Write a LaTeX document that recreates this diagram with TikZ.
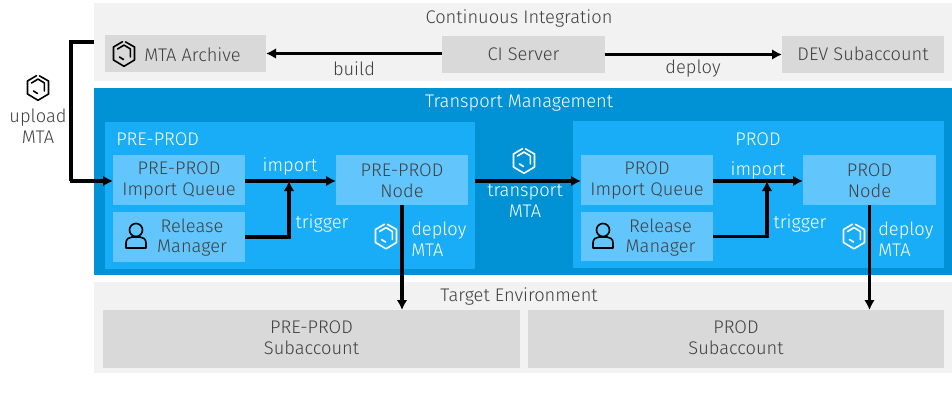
\documentclass[tikz,border=0pt]{standalone}
\usepackage{fontspec}
\setmainfont{Fira Sans}[UprightFont=* Light]
\usetikzlibrary{arrows.meta}
\definecolor{bgl}{HTML}{F2F2F2}
\definecolor{gbox}{HTML}{D9D9D9}
\definecolor{tm}{HTML}{0092D5}
\definecolor{env}{HTML}{1AADF7}
\definecolor{lb}{HTML}{62C5FC}
\definecolor{txt}{HTML}{404040}
\tikzset{
 x=0.75pt,y=-0.75pt,
 fs/.style={font=\fontsize{13.7pt}{15.7pt}\selectfont},
 lab/.style={fs,text=txt,align=center,inner sep=0pt,yshift=-1.2pt},
 wlab/.style={fs,text=white,align=center,inner sep=0pt,yshift=-1.2pt},
 conn/.style={draw=black,line width=2.5pt,-{Latex[length=7.5pt,width=8pt]}},
 plainconn/.style={draw=black,line width=2.5pt},
 rct/.style={rectangle,inner sep=0pt,outer sep=0pt,anchor=north west,minimum width=#1},
 pics/mta/.style={code={
   \draw[#1,line width=1.2pt,line join=round,line cap=round]
     (1.5,-11.6)--(10.5,-6.5)--(10.5,6.5)--(0,12.8)--(-10.5,6.5)--(-10.5,-6.5)--(-1.5,-11.8)
     (-6.5,-4.5)--(0,-8.4)--(6.3,-4.6)--(6.3,3.5)
     (-4.5,3.5)--(-0.5,6);
 }},
 pics/person/.style={code={
   \draw[black,line width=1.2pt] (0,-5) circle (6.5);
   \draw[black,line width=1.2pt,line join=round] (-10,13)--(-10,8) .. controls (-10,4) and (-7,2) .. (-4,2)--(4,2) .. controls (7,2) and (10,4) .. (10,8)--(10,13)--cycle;
 }}
}
\newcommand{\bx}[7]{\node[rct=#4*0.75pt-#2*0.75pt,minimum height=#5*0.75pt-#3*0.75pt,fill=#6] (#1) at (#2,#3) {};}
\begin{document}
\begin{tikzpicture}
\useasboundingbox (0,0) rectangle (952,417);
\fill[white] (0,0) rectangle (952,417);
\bx{ci}{94}{3}{952}{81}{bgl}{}
\bx{tmg}{94}{88}{952}{275}{tm}{}
\bx{tgt}{94}{282}{952}{373}{bgl}{}
\bx{pre}{105}{122}{475}{269}{env}{}
\bx{prod}{573}{121}{944}{268}{env}{}
\bx{arch}{105}{35}{266}{72}{gbox}{}
\bx{srv}{442}{36}{605}{73}{gbox}{}
\bx{dev}{782}{36}{944}{73}{gbox}{}
\bx{pq}{113}{155}{245}{205}{lb}{}
\bx{pr}{113}{212}{245}{262}{lb}{}
\bx{pn}{336}{155}{468}{205}{lb}{}
\bx{q}{581}{155}{713}{205}{lb}{}
\bx{r}{581}{212}{713}{261}{lb}{}
\bx{n}{803}{155}{936}{205}{lb}{}
\bx{ps}{103}{310}{520}{368}{gbox}{}
\bx{s}{528}{310}{944}{368}{gbox}{}
% titles
\node[lab] (t1) at (519,17) {Continuous Integration};
\node[wlab] (t2) at (519,102) {Transport Management};
\node[lab] (t3) at (519,295) {Target Environment};
\node[wlab,anchor=west] (t4) at (116,137.5) {PRE-PROD};
\node[wlab] (t5) at (758,137.5) {PROD};
% box texts
\node[lab,anchor=west] (a1) at (144,53.5) {MTA Archive};
\node[lab] (a2) at (523.5,52.5) {CI Server};
\node[lab] (a3) at (863,52.5) {DEV Subaccount};
\node[lab] (b1) at (179,179) {PRE-PROD\\Import Queue};
\node[lab] (b2) at (192,236) {Release\\Manager};
\node[lab] (b3) at (402,179) {PRE-PROD\\Node};
\node[lab] (c1) at (647,179) {PROD\\Import Queue};
\node[lab] (c2) at (660.5,236) {Release\\Manager};
\node[lab] (c3) at (869.5,179) {PROD\\Node};
\node[lab] (d1) at (311.5,336) {PRE-PROD\\Subaccount};
\node[lab] (d2) at (736,336) {PROD\\Subaccount};
% coordinates
\coordinate (upA) at (94,42);
\coordinate (upB) at (71,42);
\coordinate (upC) at (71,181);
% connectors
\draw[plainconn,line join=miter] (upA)--(upB)--(upC);
\draw[conn] (70,181)--(pq.west|-upC);
\draw[conn] (srv.west|-arch.east)--(arch.east);
\draw[conn] (srv.east)--(dev.west);
\coordinate (j1) at (289,181);
\coordinate (j2) at (767,181);
\draw[conn] (pq.east|-j1)--(pn.west|-j1);
\draw[conn] (q.east|-j2)--(n.west|-j2);
\draw[conn] (pr.east)-|(j1);
\draw[conn] (r.east)-|(j2);
\draw[conn] (pn.south)--(pn.south|-ps.north);
\draw[conn] (n.south)--(n.south|-s.north);
\draw[conn] (pre.east|-j1)--(q.west|-j2);
% labels
\node[lab] (u1) at (38,125) {upload\\MTA};
\node[lab] (l1) at (354,67) {build};
\node[lab] (l2) at (693,67) {deploy};
\node[wlab] (l3) at (290,165) {import};
\node[wlab] (l4) at (322,222) {trigger};
\node[wlab,anchor=west,align=left] (l5) at (411,238) {deploy\\MTA};
\node[wlab] (l6) at (525,199) {transport\\MTA};
\node[wlab] (l7) at (758,169) {import};
\node[wlab] (l8) at (800,222) {trigger};
\node[wlab,anchor=west,align=left] (l9) at (878,238) {deploy\\MTA};
% icons
\pic at (38,87.5) {mta=black};
\pic at (124,53.5) {mta=black};
\pic at (386,236) {mta=white};
\pic at (524,160.5) {mta=white};
\pic at (854,236) {mta=white};
\pic at (136,235) {person};
\pic at (603,235) {person};
\end{tikzpicture}
\end{document}
